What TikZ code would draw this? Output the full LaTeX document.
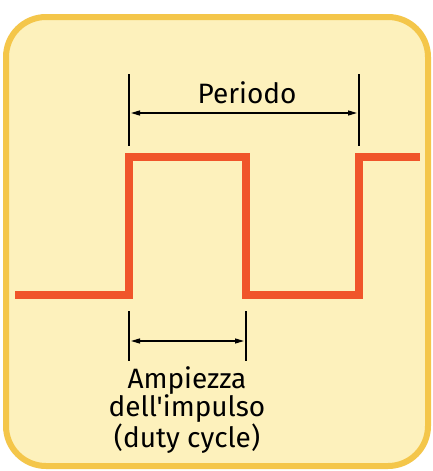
\documentclass[tikz,border=0pt]{standalone}
\usepackage{fontspec}
\setmainfont{Fira Sans}[Ligatures=TeXOff]
\usetikzlibrary{arrows.meta}
\definecolor{boxfill}{HTML}{FDF1BC}
\definecolor{boxedge}{HTML}{F4C64A}
\definecolor{wave}{HTML}{F0552A}
\tikzset{
  frame/.style={draw=boxedge, line width=6pt, fill=boxfill, rounded corners=40pt},
  signal/.style={draw=wave, line width=8pt, line join=miter},
  tick/.style={draw=black, line width=1.3pt},
  dim/.style={draw=black, line width=1.3pt, {Triangle[length=9pt,width=5pt]}-{Triangle[length=9pt,width=5pt]}},
  lbl/.style={font=\fontsize{28}{28.5}\selectfont, align=center, inner sep=0pt}
}
\begin{document}
\begin{tikzpicture}[x=1pt,y=-1pt]
\useasboundingbox (0,0) rectangle (432,471);
\fill[white] (0,0) rectangle (432,471);
\path[frame] (6,17) rectangle (428,466);
% waveform
\coordinate (w0) at (15,295);
\coordinate (w1) at (129,295);
\coordinate (w2) at (129,157);
\coordinate (w3) at (246,157);
\coordinate (w4) at (246,295);
\coordinate (w5) at (359,295);
\coordinate (w6) at (359,157);
\coordinate (w7) at (420,157);
\draw[signal] (w0) -- (w1) -- (w2) -- (w3) -- (w4) -- (w5) -- (w6) -- (w7);
% period marks
\coordinate (pt1) at (129,74);
\coordinate (pb1) at (129,146);
\coordinate (pt2) at (359,74);
\coordinate (pb2) at (359,146);
\draw[tick] (pt1) -- (pb1);
\draw[tick] (pt2) -- (pb2);
\coordinate (pa1) at (131,113);
\coordinate (pa2) at (357,113);
\draw[dim] (pa1) -- (pa2);
\node[lbl, anchor=base] (periodo) at (247,103) {Periodo};
% pulse width marks
\coordinate (dt1) at (129,311);
\coordinate (db1) at (129,361);
\coordinate (dt2) at (246,311);
\coordinate (db2) at (246,361);
\draw[tick] (dt1) -- (db1);
\draw[tick] (dt2) -- (db2);
\coordinate (da1) at (131,341);
\coordinate (da2) at (244,341);
\draw[dim] (da1) -- (da2);
\node[lbl, anchor=north] (amp) at (187,366) {Ampiezza\\dell'impulso\\(duty cycle)};
\end{tikzpicture}
\end{document}
